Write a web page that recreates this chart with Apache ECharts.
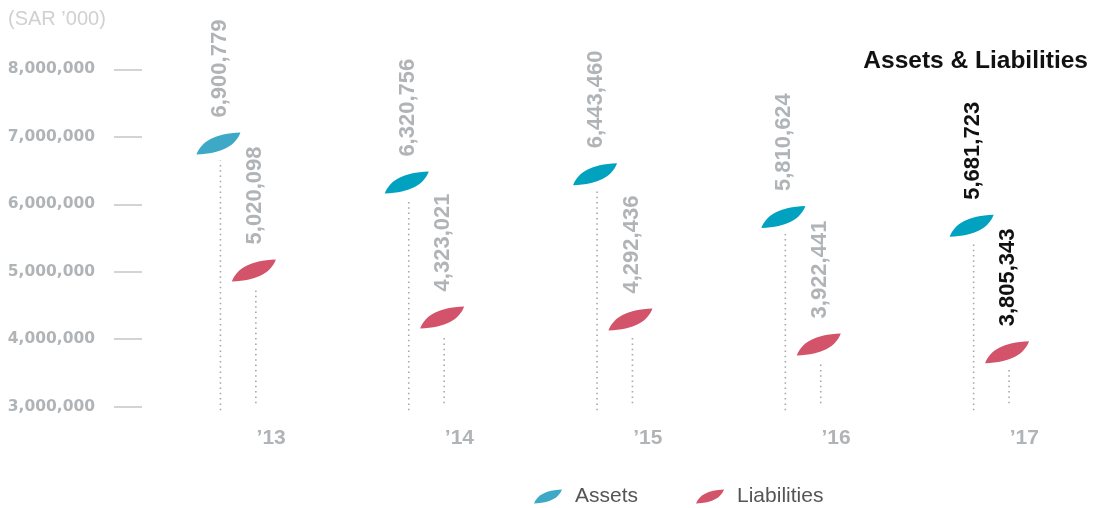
<!DOCTYPE html>
<html>
<head>
<meta charset="utf-8">
<script src="https://cdn.jsdelivr.net/npm/echarts@6/dist/echarts.min.js"></script>
<style>
  html, body { margin: 0; padding: 0; background: #fff; }
  #chart { width: 1094px; height: 508px; }
</style>
</head>
<body>
<div id="chart"></div>
<script>
// Balance sheet totals, SAR thousands
const years = ['\u201913', '\u201914', '\u201915', '\u201916', '\u201917'];
const assets = [6900779, 6320756, 6443460, 5810624, 5681723];
const liabilities = [5020098, 4323021, 4292436, 3922441, 3805343];
const seriesNames = ['Assets', 'Liabilities'];
const axisMin = 3000000;
const axisMax = 8000000;
const axisStep = 1000000;

const ASSET_COLOR = '#00a2bf';
const ASSET_COLOR_SOFT = '#3ea9c6';
const LIAB_COLOR = '#d2536a';
const LABEL_GRAY = '#b1b4b7';
const LEAF_PATH = 'M0,22 C5,9 18,1 44,0 C39,13 26,21 0,22 Z';

function fmt(v) {
  return v.toString().replace(/\B(?=(\d{3})+(?!\d))/g, ',');
}

// Each mark: dotted stem from the baseline, a leaf at the value, rotated value label
function makeRender(sideSign, baseExtra, colorFor) {
  return function (params, api) {
    const idx = api.value(0);
    const val = api.value(1);
    const pt = api.coord([idx, val]);
    const base = api.coord([idx, axisMin]);
    const band = api.size([1, 0])[0];
    const x = pt[0] + sideSign * band * 0.094;
    const cx = x - 2;
    const cy = pt[1];
    const last = idx === years.length - 1;
    return {
      type: 'group',
      children: [
        {
          type: 'line',
          shape: { x1: x, y1: base[1] + baseExtra, x2: x, y2: cy + 17 },
          style: { stroke: '#a6a8aa', lineWidth: 1.6, lineDash: [1.5, 3.8] },
          z2: 1
        },
        {
          type: 'path',
          shape: { pathData: LEAF_PATH, x: cx - 22, y: cy - 11, width: 44, height: 22, layout: 'cover' },
          style: { fill: colorFor(idx) },
          z2: 2
        },
        {
          type: 'text',
          x: cx + 1,
          y: cy - 26,
          rotation: Math.PI / 2,
          style: {
            text: fmt(val),
            x: 0, y: 0,
            align: 'left',
            verticalAlign: 'middle',
            fill: last ? '#111' : LABEL_GRAY,
            fontSize: 22,
            fontWeight: 'bold',
            fontFamily: '"Liberation Sans", Arial, sans-serif'
          },
          z2: 3
        }
      ]
    };
  };
}

const chart = echarts.init(document.getElementById('chart'), null, { renderer: 'canvas' });

chart.setOption({
  animation: false,
  backgroundColor: '#fff',
  title: {
    text: 'Assets & Liabilities',
    right: 1,
    top: 44,
    textStyle: {
      color: '#111',
      fontSize: 24.5,
      fontWeight: 'bold',
      fontFamily: '"Liberation Sans", Arial, sans-serif'
    }
  },
  graphic: [{
    type: 'text',
    left: 8,
    top: 9,
    style: {
      text: '(SAR \u2019000)',
      fill: '#cfd0d2',
      fontSize: 20,
      fontFamily: '"Liberation Sans", Arial, sans-serif'
    }
  }],
  legend: {
    left: 529,
    top: 481,
    itemWidth: 28,
    itemHeight: 14,
    itemGap: 58,
    data: [
      { name: seriesNames[0], icon: 'path://' + LEAF_PATH, itemStyle: { color: ASSET_COLOR_SOFT } },
      { name: seriesNames[1], icon: 'path://' + LEAF_PATH, itemStyle: { color: LIAB_COLOR } }
    ],
    textStyle: {
      color: '#555',
      fontSize: 21,
      fontFamily: '"Liberation Sans", Arial, sans-serif',
      padding: [0, 0, 0, 8]
    }
  },
  grid: { left: 144, right: 8.5, top: 69.3, bottom: 101.3 },
  xAxis: {
    type: 'category',
    data: years,
    axisLine: { show: false },
    axisTick: { show: false },
    axisLabel: {
      margin: 21,
      padding: [0, 0, 0, 66],
      color: LABEL_GRAY,
      fontSize: 21,
      fontWeight: 'bold',
      fontFamily: '"Liberation Sans", Arial, sans-serif'
    }
  },
  yAxis: {
    type: 'value',
    min: axisMin,
    max: axisMax,
    interval: axisStep,
    offset: 2,
    splitLine: { show: false },
    axisLine: { show: false },
    axisTick: { show: true, length: 28, lineStyle: { color: '#d3d4d5', width: 2 } },
    axisLabel: {
      margin: 47,
      color: LABEL_GRAY,
      fontSize: 15.5,
      fontWeight: 'bold',
      fontFamily: '"DejaVu Sans", sans-serif',
      formatter: fmt
    }
  },
  series: [
    {
      name: seriesNames[0],
      type: 'custom',
      itemStyle: { color: ASSET_COLOR_SOFT },
      renderItem: makeRender(-1, 3.5, function (i) { return i === 0 ? ASSET_COLOR_SOFT : ASSET_COLOR; }),
      data: assets.map(function (v, i) { return [i, v]; }),
      clip: false
    },
    {
      name: seriesNames[1],
      type: 'custom',
      itemStyle: { color: LIAB_COLOR },
      renderItem: makeRender(1, -3.5, function () { return LIAB_COLOR; }),
      data: liabilities.map(function (v, i) { return [i, v]; }),
      clip: false
    }
  ]
});
</script>
</body>
</html>
